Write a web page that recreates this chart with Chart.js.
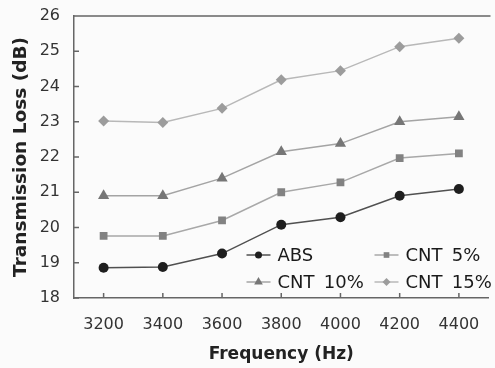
<!DOCTYPE html>
<html>
<head>
<meta charset="utf-8">
<script src="https://cdn.jsdelivr.net/npm/chart.js@4/dist/chart.umd.min.js"></script>
<style>
  html, body { margin: 0; padding: 0; background: #fbfbfb; }
  #wrap { width: 495px; height: 368px; }
</style>
</head>
<body>
<div id="wrap"><canvas id="tlChart" width="495" height="368"></canvas></div>
<script>
// frequencies (Hz)
const frequencies = ['3200', '3400', '3600', '3800', '4000', '4200', '4400'];
const yTicks = [18, 19, 20, 21, 22, 23, 24, 25, 26];

// transmission loss (dB)
const absTL   = [18.86, 18.88, 19.26, 20.08, 20.29, 20.90, 21.09];
const cnt5TL  = [19.76, 19.76, 20.20, 21.00, 21.28, 21.97, 22.10];
const cnt10TL = [20.90, 20.90, 21.40, 22.15, 22.38, 23.00, 23.14];
const cnt15TL = [23.02, 22.98, 23.38, 24.19, 24.45, 25.13, 25.37];

const seriesNames = ['ABS', 'CNT 5%', 'CNT 10%', 'CNT 15%'];

function makeSet(label, data, line, marker, style, r) {
    return {
        label: label,
        data: data,
        borderColor: line,
        borderWidth: 1.5,
        backgroundColor: marker,
        pointBackgroundColor: marker,
        pointBorderColor: marker,
        pointBorderWidth: 0,
        pointStyle: style,
        pointRadius: r,
        tension: 0
    };
}

// ticks pointing into the plot + top frame line
const framePlugin = {
    id: 'frame',
    afterDraw(chart) {
        const ctx = chart.ctx;
        const a = chart.chartArea;
        const xs = chart.scales.x, ys = chart.scales.y;
        ctx.save();
        ctx.strokeStyle = '#666';
        ctx.lineWidth = 1.5;
        ctx.beginPath();
        ctx.moveTo(a.left, a.top);
        ctx.lineTo(a.right + 2, a.top);
        yTicks.forEach(v => {
            const y = ys.getPixelForValue(v);
            ctx.moveTo(a.left, y);
            ctx.lineTo(a.left + 5, y);
        });
        frequencies.forEach((f, i) => {
            const x = xs.getPixelForValue(i);
            ctx.moveTo(x, a.bottom);
            ctx.lineTo(x, a.bottom - 5);
        });
        ctx.stroke();
        ctx.restore();
    }
};

// two-column legend inside the plot, lower right
const legendPlugin = {
    id: 'innerLegend',
    afterDraw(chart) {
        const ctx = chart.ctx;
        const a = chart.chartArea;
        const cols = [a.right - 242, a.right - 114];
        const rows = [a.bottom - 43, a.bottom - 16];
        ctx.save();
        ctx.font = '18px "DejaVu Sans"';
        ctx.textBaseline = 'middle';
        ctx.textAlign = 'left';
        chart.data.datasets.forEach((ds, i) => {
            const x = cols[i % 2], y = rows[Math.floor(i / 2)];
            ctx.strokeStyle = ds.borderColor;
            ctx.lineWidth = 1.5;
            ctx.beginPath();
            ctx.moveTo(x, y);
            ctx.lineTo(x + 24, y);
            ctx.stroke();
            ctx.fillStyle = ds.pointBackgroundColor;
            ctx.strokeStyle = ds.pointBorderColor;
            Chart.helpers.drawPoint(ctx, {
                pointStyle: ds.pointStyle, radius: ds.pointRadius - 1.5,
                rotation: 0, borderWidth: 0
            }, x + 12, y);
            ctx.fillStyle = '#1a1a1a';
            ctx.fillText(ds.label.replace(' ', '\u2009 '), x + 31, y + 1);
        });
        ctx.restore();
    }
};

const ctx = document.getElementById('tlChart').getContext('2d');
const chart = new Chart(ctx, {
    type: 'line',
    data: {
        labels: frequencies,
        datasets: [
            makeSet(seriesNames[0], absTL, '#505050', '#1e1e1e', 'circle', 5),
            makeSet(seriesNames[1], cnt5TL, '#a8a8a8', '#828282', 'rect', 5.5),
            makeSet(seriesNames[2], cnt10TL, '#a4a4a4', '#767676', 'triangle', 6.5),
            makeSet(seriesNames[3], cnt15TL, '#b8b8b8', '#9c9c9c', 'rectRot', 5.5)
        ]
    },
    options: {
        responsive: false,
        animation: false,
        layout: { padding: { top: 16, right: 1, left: 0, bottom: 0 } },
        plugins: {
            legend: { display: false },
            tooltip: { enabled: false }
        },
        scales: {
            x: {
                offset: true,
                grid: { display: false, drawTicks: false, offset: true },
                border: { display: true, color: '#666', width: 1.5 },
                ticks: {
                    color: '#333',
                    padding: 17,
                    font: { family: 'DejaVu Sans', size: 16 }
                },
                title: {
                    display: true,
                    text: 'Frequency (Hz)',
                    color: '#222',
                    padding: { top: 0, bottom: 3 },
                    font: { family: 'DejaVu Sans', size: 17, weight: 'bold' }
                },
                afterFit(scale) {
                    scale.height = 70;
                    scale.paddingLeft = 0;
                    scale.paddingRight = 0;
                }
            },
            y: {
                min: 18,
                max: 26,
                grid: { display: false, drawTicks: false },
                border: { display: true, color: '#666', width: 1.5 },
                afterBuildTicks(scale) {
                    scale.ticks = yTicks.map(v => ({ value: v }));
                },
                ticks: {
                    color: '#333',
                    padding: 14,
                    font: { family: 'DejaVu Sans', size: 16 }
                },
                title: {
                    display: true,
                    text: 'Transmission Loss (dB)',
                    color: '#222',
                    padding: { top: 10, bottom: 0 },
                    font: { family: 'DejaVu Sans', size: 18.5, weight: 'bold' }
                },
                afterFit(scale) {
                    scale.width = 74;
                    scale.paddingTop = 0;
                    scale.paddingBottom = 0;
                }
            }
        }
    },
    plugins: [framePlugin, legendPlugin]
});
</script>
</body>
</html>
